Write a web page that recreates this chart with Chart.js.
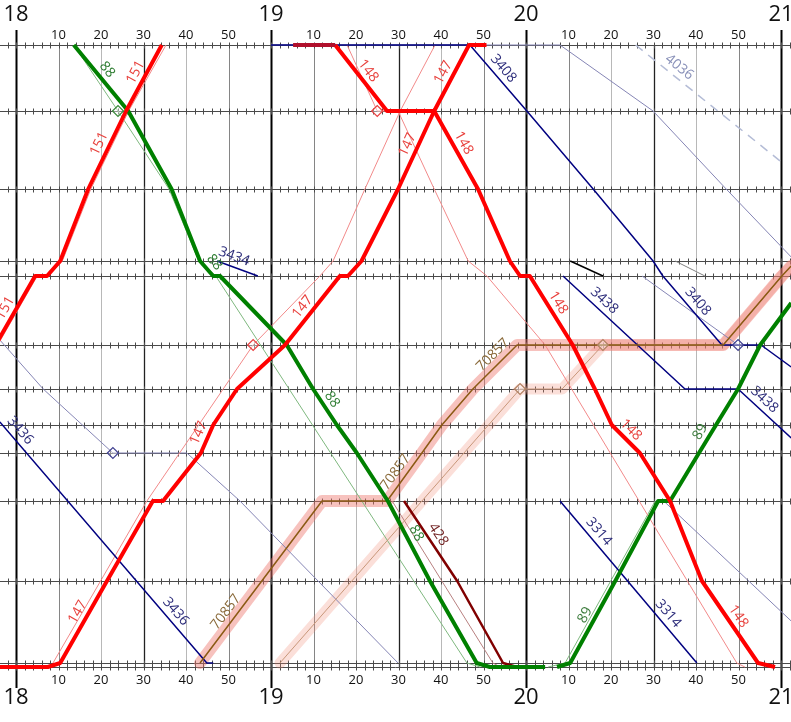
<!DOCTYPE html>
<html>
<head>
<meta charset="utf-8">
<script src="https://cdn.jsdelivr.net/npm/chart.js@4.4.1/dist/chart.umd.min.js"></script>
<style>
  html, body { margin: 0; padding: 0; background: #fff; }
  #wrap { width: 791px; height: 722px; }
</style>
</head>
<body>
<div id="wrap"><canvas id="graph" width="791" height="722"></canvas></div>
<script>
// x = minutes after 18:00, y = km along the line (top station = 0)
const stationKm = [0, 66, 144, 216, 231, 300, 344, 380, 408, 456, 536, 618, 622];
const hourLabels = ['18', '19', '20', '21'];
const minuteLabels = ['10', '20', '30', '40', '50'];

// actual runs
const t151 = [[-4.8,300],[4.5,231],[7.3,231],[10.4,216],[17.0,144],[25.9,66],[34.3,0]];
const t88 = [[13.6,0],[26.4,66],[36.6,144],[43.3,216],[46.4,231],[48.0,231],[63.7,300],[69.9,344],[75.5,380],[80.2,408],[87.5,456],[97.4,536],[108.4,618],[111.5,622],[124.5,622]];
const t147 = [[-3.8,622],[7.5,622],[10.4,618],[21.4,536],[32.2,456],[34.6,456],[43.5,408],[46.4,380],[52.0,344],[63.3,300],[76.2,231],[78.1,231],[81.3,216],[89.9,144],[98.4,66],[106.6,0],[110.7,0]];
const t148 = [[75.1,0],[87.3,66],[98.4,66],[108.7,144],[116.2,216],[118.6,231],[120.9,231],[131.0,300],[136.2,344],[140.2,380],[146.8,408],[153.9,456],[161.4,536],[174.6,618],[178.6,622]];
const t148wait = [[65.2,0],[75.1,0]];
const t89 = [[127.3,622],[130.4,618],[141.0,536],[151.1,456],[153.9,456],[160.7,408],[164.7,380],[169.9,344],[175.1,300],[182.4,258]];
const t428 = [[91.3,456],[103.8,536],[114.6,618],[117.9,622]];
const t70857 = [[43.3,618],[72.0,456],[87.3,456],[95.5,408],[100.2,380],[107.5,344],[117.9,300],[166.4,300],[180.2,231],[182.4,221]];
const t3408 = [[60,0],[106.8,0],[120.2,66],[135.8,144],[149.9,216],[152.2,231],[166.1,300],[175.3,300],[182.4,322]];
const t3438 = [[128.7,231],[157.4,344],[169.9,344],[182.4,393]];
const t3436 = [[-3.8,377],[44.9,618],[46.4,618]];
const t3434 = [[47.3,216],[56.9,231]];
const t3314 = [[128.0,456],[160.2,618]];
const t4036 = [[145.8,0],[179.8,116]];
const shuntBlack = [[130.4,216],[138.1,231]];
const shuntGray = [[155.1,216],[162.1,231]];

// timetable (planned) runs
const p151 = [[-4.3,300],[5.0,231],[7.6,231],[10.9,216],[17.6,144],[26.5,66],[35.3,0]];
const p88 = [[13.6,0],[24.0,66],[36.0,144],[43.0,216],[47.0,231],[106.1,618],[109.2,622]];
const p147 = [[8.7,618],[19.9,536],[30.8,456],[55.8,300],[71.5,231],[74.6,216],[82.1,144],[90.4,66],[98.6,0]];
const p148 = [[77.9,0],[85.0,66],[89.9,66],[98.4,144],[106.4,216],[110.8,231],[124.5,300],[169.6,618],[171.5,622]];
const p89 = [[125.2,622],[129.2,618],[150.4,456]];
const p428 = [[88.5,456],[100.2,536],[112.2,618],[114.0,622]];
const p70857 = [[62.1,618],[118.6,344],[128.5,344],[138.1,300],[166.4,300],[180.2,231],[182.4,221]];
const p3408 = [[60,0],[128.0,0],[149.9,66],[167.1,144],[182.4,212]];
const p3438 = [[147.3,231],[169.9,300]];
const p3436 = [[-3.8,295],[6.4,344],[22.8,408],[40.2,408],[52.7,456],[89.9,618]];
const pLate = [[152.4,456],[182.4,576]];

// planned-time markers
const markGreen = [[24.0,66]];
const markRed = [[55.8,300],[85.0,66]];
const markBlue = [[22.8,408],[169.9,300]];
const markBrown = [[118.6,344],[138.1,300]];

const trainsByName = { t151, t88, t147, t148, t89, t428, t70857, t3408, t3438, t3436, t3434, t3314, t4036 };

// [text, train, km where label sits, colour]
const trainLabels = [
  ['151', 't151', 32, '#e8403c'], ['151', 't151', 103, '#e8403c'], ['151', 't151', 268, '#e8403c'],
  ['88', 't88', 31, '#2e7d32'], ['88', 't88', 224, '#2e7d32'], ['88', 't88', 360, '#2e7d32'], ['88', 't88', 493, '#2e7d32'],
  ['148', 't148', 32, '#e8403c'], ['148', 't148', 103, '#e8403c'], ['148', 't148', 263, '#e8403c'], ['148', 't148', 392, '#e8403c'], ['148', 't148', 577, '#e8403c'],
  ['147', 't147', 32, '#e8403c'], ['147', 't147', 104, '#e8403c'], ['147', 't147', 268, '#e8403c'], ['147', 't147', 392, '#e8403c'], ['147', 't147', 572, '#e8403c'],
  ['3408', 't3408', 30, '#2c2c7a'], ['3408', 't3408', 263, '#2c2c7a'],
  ['4036', 't4036', 30, '#8890b8'],
  ['3434', 't3434', 221, '#2c2c7a'],
  ['3438', 't3438', 263, '#2c2c7a'], ['3438', 't3438', 362, '#2c2c7a'],
  ['3436', 't3436', 392, '#2c2c7a'], ['3436', 't3436', 573, '#2c2c7a'],
  ['70857', 't70857', 573, '#8a6a3a'], ['70857', 't70857', 433, '#8a6a3a'], ['70857', 't70857', 317, '#8a6a3a'],
  ['428', 't428', 495, '#702020'],
  ['89', 't89', 392, '#3a7a3a'], ['89', 't89', 575, '#3a7a3a'],
  ['3314', 't3314', 493, '#2c2c7a'], ['3314', 't3314', 575, '#2c2c7a']
];

function series(pts, color, width, order, extra) {
  return Object.assign({
    data: pts.map(p => ({ x: p[0], y: p[1] })),
    borderColor: color,
    borderWidth: width,
    pointRadius: 0,
    fill: false,
    tension: 0,
    borderJoinStyle: 'round',
    order: order
  }, extra || {});
}

function marks(pts, color) {
  return {
    data: pts.map(p => ({ x: p[0], y: p[1] })),
    showLine: false,
    pointStyle: 'rectRot',
    pointRadius: 5.5,
    pointBorderWidth: 1.2,
    pointBorderColor: color,
    pointBackgroundColor: 'rgba(255,255,255,0.4)',
    order: 0
  };
}

const datasets = [
  // wide bands for the freight train
  series(p70857, 'rgba(240,140,120,0.28)', 11, 30, { borderCapStyle: 'round' }),
  series(t70857, 'rgba(238,120,110,0.45)', 12, 29, { borderCapStyle: 'round' }),
  // planned lines
  series(p151, '#f28a8a', 1, 20),
  series(p88, '#7fb87f', 1, 20),
  series(p147, '#f28a8a', 1, 20),
  series(p148, '#f28a8a', 1, 20),
  series(p89, '#7fb87f', 1, 20),
  series(p428, '#b88080', 1, 20),
  series(p70857, '#c8977a', 1, 19),
  series(p3408, '#8585b5', 1, 20),
  series(p3438, '#8585b5', 1, 20),
  series(p3436, '#8585b5', 1, 20),
  series(pLate, '#8585b5', 1, 20),
  series(t4036, '#b4bcd6', 1.5, 18, { borderDash: [9, 7] }),
  series(shuntGray, '#808080', 1, 18),
  series(shuntBlack, '#000000', 1.5, 12),
  // actual lines
  series(t3408, '#000080', 1.5, 10),
  series(t3438, '#000080', 1.5, 10),
  series(t3436, '#000080', 1.5, 10),
  series(t3434, '#000080', 1.5, 10),
  series(t3314, '#000080', 1.5, 10),
  series(t70857, '#8b5a14', 1.5, 9),
  series(t428, '#800000', 2.5, 6),
  series(t88, '#008000', 4, 4),
  series(t89, '#008000', 4, 4),
  series(t151, '#ff0000', 4, 3),
  series(t147, '#ff0000', 4, 3),
  series(t148, '#ff0000', 4, 3),
  series(t148wait, '#b0102c', 4, 2),
  marks(markGreen, '#3a8a3a'),
  marks(markRed, '#e84040'),
  marks(markBlue, '#404090'),
  marks(markBrown, '#b08060')
];

function anchorOn(pts, km) {
  for (let i = 0; i < pts.length - 1; i++) {
    const a = pts[i], b = pts[i + 1];
    if (a[1] === b[1]) continue;
    const lo = Math.min(a[1], b[1]), hi = Math.max(a[1], b[1]);
    if (km >= lo && km <= hi) {
      const f = (km - a[1]) / (b[1] - a[1]);
      return { t: a[0] + f * (b[0] - a[0]), a, b };
    }
  }
  return null;
}

const gridPlugin = {
  id: 'grid',
  beforeDatasetsDraw(chart) {
    const { ctx, chartArea } = chart;
    const xs = chart.scales.x, ys = chart.scales.y;
    const yTop = ys.getPixelForValue(0), yBot = ys.getPixelForValue(622);
    ctx.save();
    // minute and hour lines
    for (let m = 0; m <= 180; m += 10) {
      const x = Math.round(xs.getPixelForValue(m)) + 0.5;
      ctx.beginPath();
      if (m % 60 === 0) {
        ctx.strokeStyle = '#000'; ctx.lineWidth = 2;
        ctx.moveTo(x, chartArea.top); ctx.lineTo(x, chartArea.bottom);
      } else if (m % 30 === 0) {
        ctx.strokeStyle = '#222'; ctx.lineWidth = 1.3;
        ctx.moveTo(x, yTop); ctx.lineTo(x, yBot);
      } else {
        const mm = m % 60;
        ctx.strokeStyle = (mm === 10 || mm === 50) ? '#858585' : '#b8b8b8';
        ctx.lineWidth = 1;
        ctx.moveTo(x, yTop); ctx.lineTo(x, yBot);
      }
      ctx.stroke();
    }
    // stations with 2-minute ticks
    ctx.strokeStyle = '#4a4a4a';
    ctx.lineWidth = 1;
    stationKm.forEach(km => {
      const y = Math.round(ys.getPixelForValue(km)) + 0.5;
      ctx.beginPath();
      ctx.moveTo(chartArea.left, y); ctx.lineTo(chartArea.right, y);
      for (let m = -2; m <= 182; m += 2) {
        const x = Math.round(xs.getPixelForValue(m)) + 0.5;
        ctx.moveTo(x, y - 3); ctx.lineTo(x, y + 3);
      }
      ctx.stroke();
    });
    ctx.restore();
  },
  afterDraw(chart) {
    const { ctx } = chart;
    const xs = chart.scales.x, ys = chart.scales.y;
    ctx.save();
    ctx.textAlign = 'center';
    ctx.textBaseline = 'middle';
    ctx.fillStyle = '#111';
    hourLabels.forEach((h, i) => {
      const x = xs.getPixelForValue(i * 60);
      ctx.font = '22px "Open Sans", sans-serif';
      ctx.fillText(h, x, 15);
      ctx.fillText(h, x, 698);
      if (i < hourLabels.length - 1) {
        ctx.font = '13px "Open Sans", sans-serif';
        minuteLabels.forEach((lab, j) => {
          const mx = xs.getPixelForValue(i * 60 + (j + 1) * 10);
          ctx.fillText(lab, mx, 35);
          ctx.fillText(lab, mx, 680);
        });
      }
    });
    // train numbers along their lines
    ctx.font = '14px "Open Sans", sans-serif';
    ctx.textBaseline = 'bottom';
    trainLabels.forEach(([text, name, km, color]) => {
      const pts = trainsByName[name];
      const hit = anchorOn(pts, km);
      if (!hit) return;
      const px = xs.getPixelForValue(hit.t), py = ys.getPixelForValue(km);
      const dx = xs.getPixelForValue(hit.b[0]) - xs.getPixelForValue(hit.a[0]);
      const dy = ys.getPixelForValue(hit.b[1]) - ys.getPixelForValue(hit.a[1]);
      const ang = Math.atan2(dy, dx);
      ctx.save();
      ctx.translate(px, py);
      ctx.rotate(ang);
      ctx.fillStyle = color;
      ctx.fillText(text, 0, -3);
      ctx.restore();
    });
    ctx.restore();
  }
};

new Chart(document.getElementById('graph'), {
  type: 'line',
  data: { datasets: datasets },
  options: {
    responsive: false,
    animation: false,
    events: [],
    layout: { autoPadding: false, padding: { top: 30, bottom: 34, left: 0, right: 0 } },
    scales: {
      x: { type: 'linear', min: -16 / 4.25, max: 775 / 4.25, display: false },
      y: { type: 'linear', min: -15, max: 643, reverse: true, display: false }
    },
    plugins: { legend: { display: false }, tooltip: { enabled: false } }
  },
  plugins: [gridPlugin]
});
</script>
</body>
</html>
